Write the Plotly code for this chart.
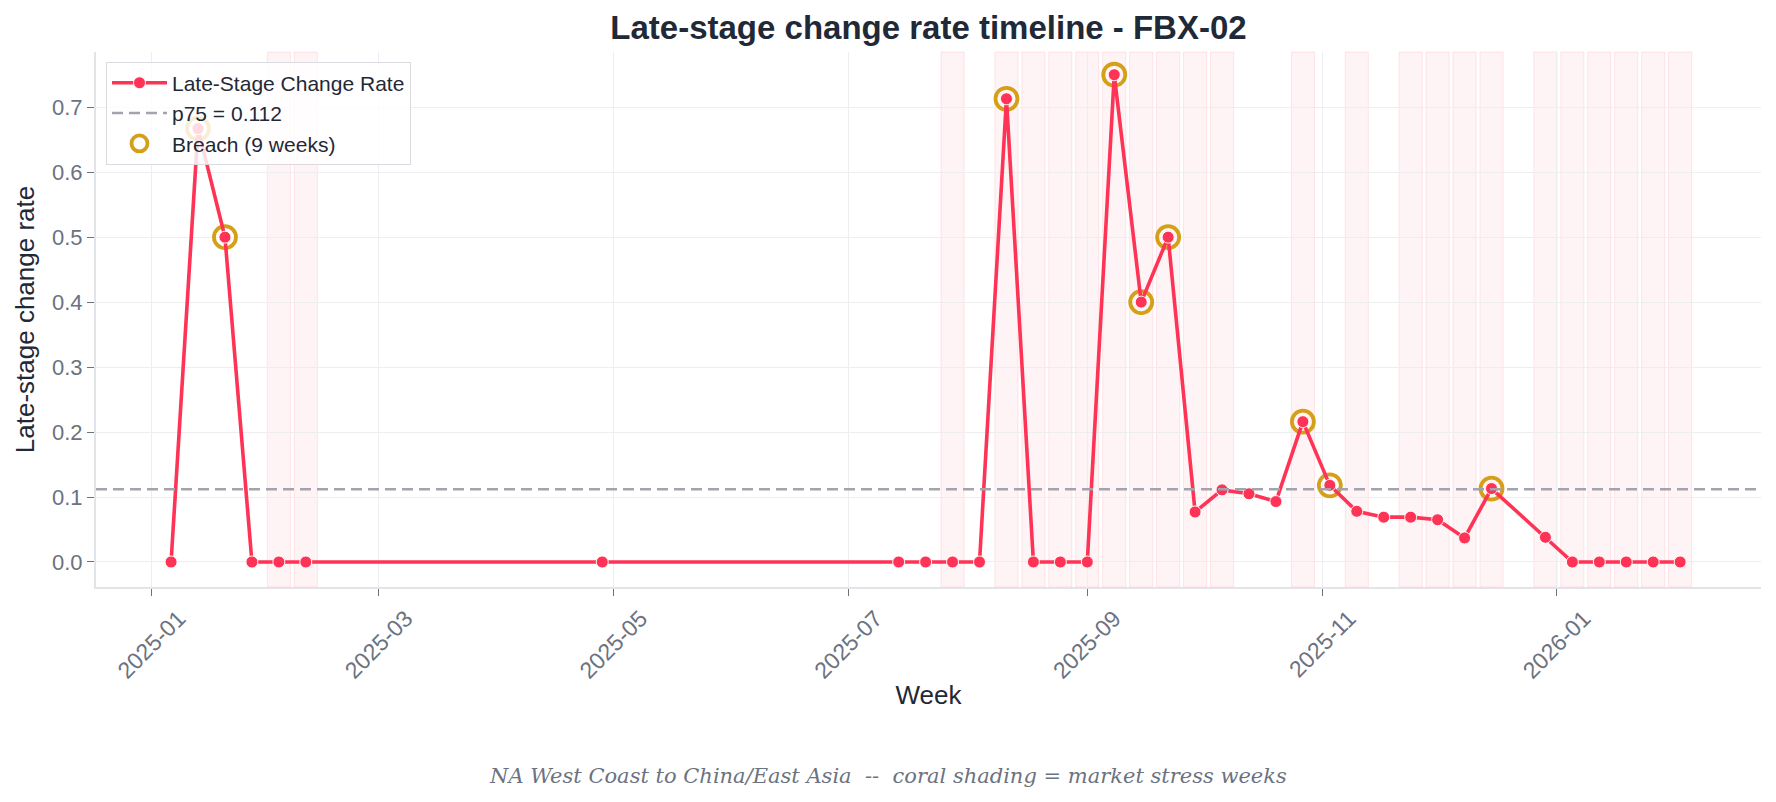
import plotly.graph_objects as go
import pandas as pd

weeks = ["2025-01-06", "2025-01-13", "2025-01-20", "2025-01-27", "2025-02-03", "2025-02-10",
         "2025-04-28", "2025-07-14", "2025-07-21", "2025-07-28", "2025-08-04", "2025-08-11",
         "2025-08-18", "2025-08-25", "2025-09-01", "2025-09-08", "2025-09-15", "2025-09-22",
         "2025-09-29", "2025-10-06", "2025-10-13", "2025-10-20", "2025-10-27", "2025-11-03",
         "2025-11-10", "2025-11-17", "2025-11-24", "2025-12-01", "2025-12-08", "2025-12-15",
         "2025-12-29", "2026-01-05", "2026-01-12", "2026-01-19", "2026-01-26", "2026-02-02"]
rates = [0.0, 0.667, 0.5, 0.0, 0.0, 0.0,
         0.0, 0.0, 0.0, 0.0, 0.0, 0.713,
         0.0, 0.0, 0.0, 0.75, 0.40, 0.50,
         0.077, 0.111, 0.105, 0.093, 0.216, 0.118,
         0.078, 0.069, 0.069, 0.065, 0.037, 0.113,
         0.038, 0.0, 0.0, 0.0, 0.0, 0.0]
p75 = 0.112
breach_weeks = ["2025-01-13", "2025-01-20", "2025-08-11", "2025-09-08", "2025-09-15",
                "2025-09-22", "2025-10-27", "2025-11-03", "2025-12-15"]
stress_weeks = ["2025-02-03", "2025-02-10", "2025-07-28", "2025-08-11", "2025-08-18",
                "2025-08-25", "2025-09-01", "2025-09-08", "2025-09-15", "2025-09-22",
                "2025-09-29", "2025-10-06", "2025-10-27", "2025-11-10", "2025-11-24",
                "2025-12-01", "2025-12-08", "2025-12-15", "2025-12-29", "2026-01-05",
                "2026-01-12", "2026-01-19", "2026-01-26", "2026-02-02"]

rate_by_week = dict(zip(weeks, rates))
breach_vals = [rate_by_week[w] for w in breach_weeks]

LINE = "#ff3355"
GOLD = "#d4a017"
TEXT = "#1f2937"
TICK = "#6b7280"
GRID = "#eeeef0"
DASH = "#a3a3ad"

W, H = 1768, 794  # page body has an 8px margin

fig = go.Figure()

for w in stress_weeks:
    d = pd.Timestamp(w)
    fig.add_shape(type="rect", xref="x", yref="paper",
                  x0=d - pd.Timedelta(days=3), x1=d + pd.Timedelta(days=3),
                  y0=0, y1=1, fillcolor="rgba(255,99,120,0.07)",
                  line=dict(color="rgba(255,99,120,0.15)", width=1), layer="below")

fig.add_hline(y=p75, line=dict(color=DASH, width=2.5, dash="11px,6px"))

# breach rings drawn first so the series line and dots sit on top
fig.add_trace(go.Scatter(x=breach_weeks, y=breach_vals, mode="markers",
                         name=f"Breach ({len(breach_weeks)} weeks)", legendrank=3,
                         marker=dict(symbol="circle-open", size=22, color=GOLD,
                                     line=dict(color=GOLD, width=3.8))))
fig.add_trace(go.Scatter(x=weeks, y=rates, mode="lines+markers", name="Late-Stage Change Rate",
                         legendrank=1,
                         line=dict(color=LINE, width=3.6),
                         marker=dict(color=LINE, size=12, line=dict(color="white", width=0.9))))
fig.add_trace(go.Scatter(x=[None], y=[None], mode="lines", name=f"p75 = {p75}", legendrank=2,
                         line=dict(color=DASH, width=2.5, dash="11px,6px")))

fig.update_layout(
    width=W, height=H,
    margin=dict(l=88, r=15, t=44, b=215),
    plot_bgcolor="white", paper_bgcolor="white",
    font=dict(family="Liberation Sans, Arial, sans-serif", color=TEXT),
    title=dict(text="<b>Late-stage change rate timeline - FBX-02</b>", x=0.5, xref="paper",
               xanchor="center", y=1 - 19 / H, yref="container", yanchor="middle",
               font=dict(size=33, color=TEXT)),
    legend=dict(x=0.006, y=0.982, xanchor="left", yanchor="top",
                bgcolor="rgba(255,255,255,0.82)", bordercolor="#d9dbe0", borderwidth=1,
                font=dict(size=21, color=TEXT), tracegroupgap=0, itemwidth=55,
                traceorder="normal"),
    showlegend=True,
)

fig.update_xaxes(
    type="date", range=["2024-12-17 12:00", "2026-02-23"],
    tickformat="%Y-%m", dtick="M2", tick0="2025-01-01", tickangle=-45,
    ticklabelshift=27,
    tickfont=dict(size=23, color=TICK), ticks="outside", ticklen=7, tickcolor=TICK,
    showgrid=True, gridcolor=GRID, gridwidth=1,
    showline=True, linecolor="#e3e4e8", linewidth=2, zeroline=False,
    title=dict(text="Week", font=dict(size=26, color=TEXT), standoff=3),
)
fig.update_yaxes(
    range=[-0.0385, 0.785], tickvals=[0, 0.1, 0.2, 0.3, 0.4, 0.5, 0.6, 0.7],
    tickformat=".1f", tickfont=dict(size=22, color=TICK), ticks="outside", ticklen=7,
    tickcolor=TICK, showgrid=True, gridcolor=GRID, gridwidth=1,
    showline=True, linecolor="#e3e4e8", linewidth=2, zeroline=False,
    title=dict(text="Late-stage change rate", font=dict(size=26, color=TEXT), standoff=10),
)

fig.add_annotation(text="<i>NA West Coast to China/East Asia  --  coral shading = market stress weeks</i>",
                   xref="paper", yref="paper", x=(888 - 96) / 1665, y=(587 - 776) / 535,
                   xanchor="center", yanchor="middle", showarrow=False,
                   font=dict(family="DejaVu Serif, serif", size=21, color=TICK))

fig.write_html("out.html")
